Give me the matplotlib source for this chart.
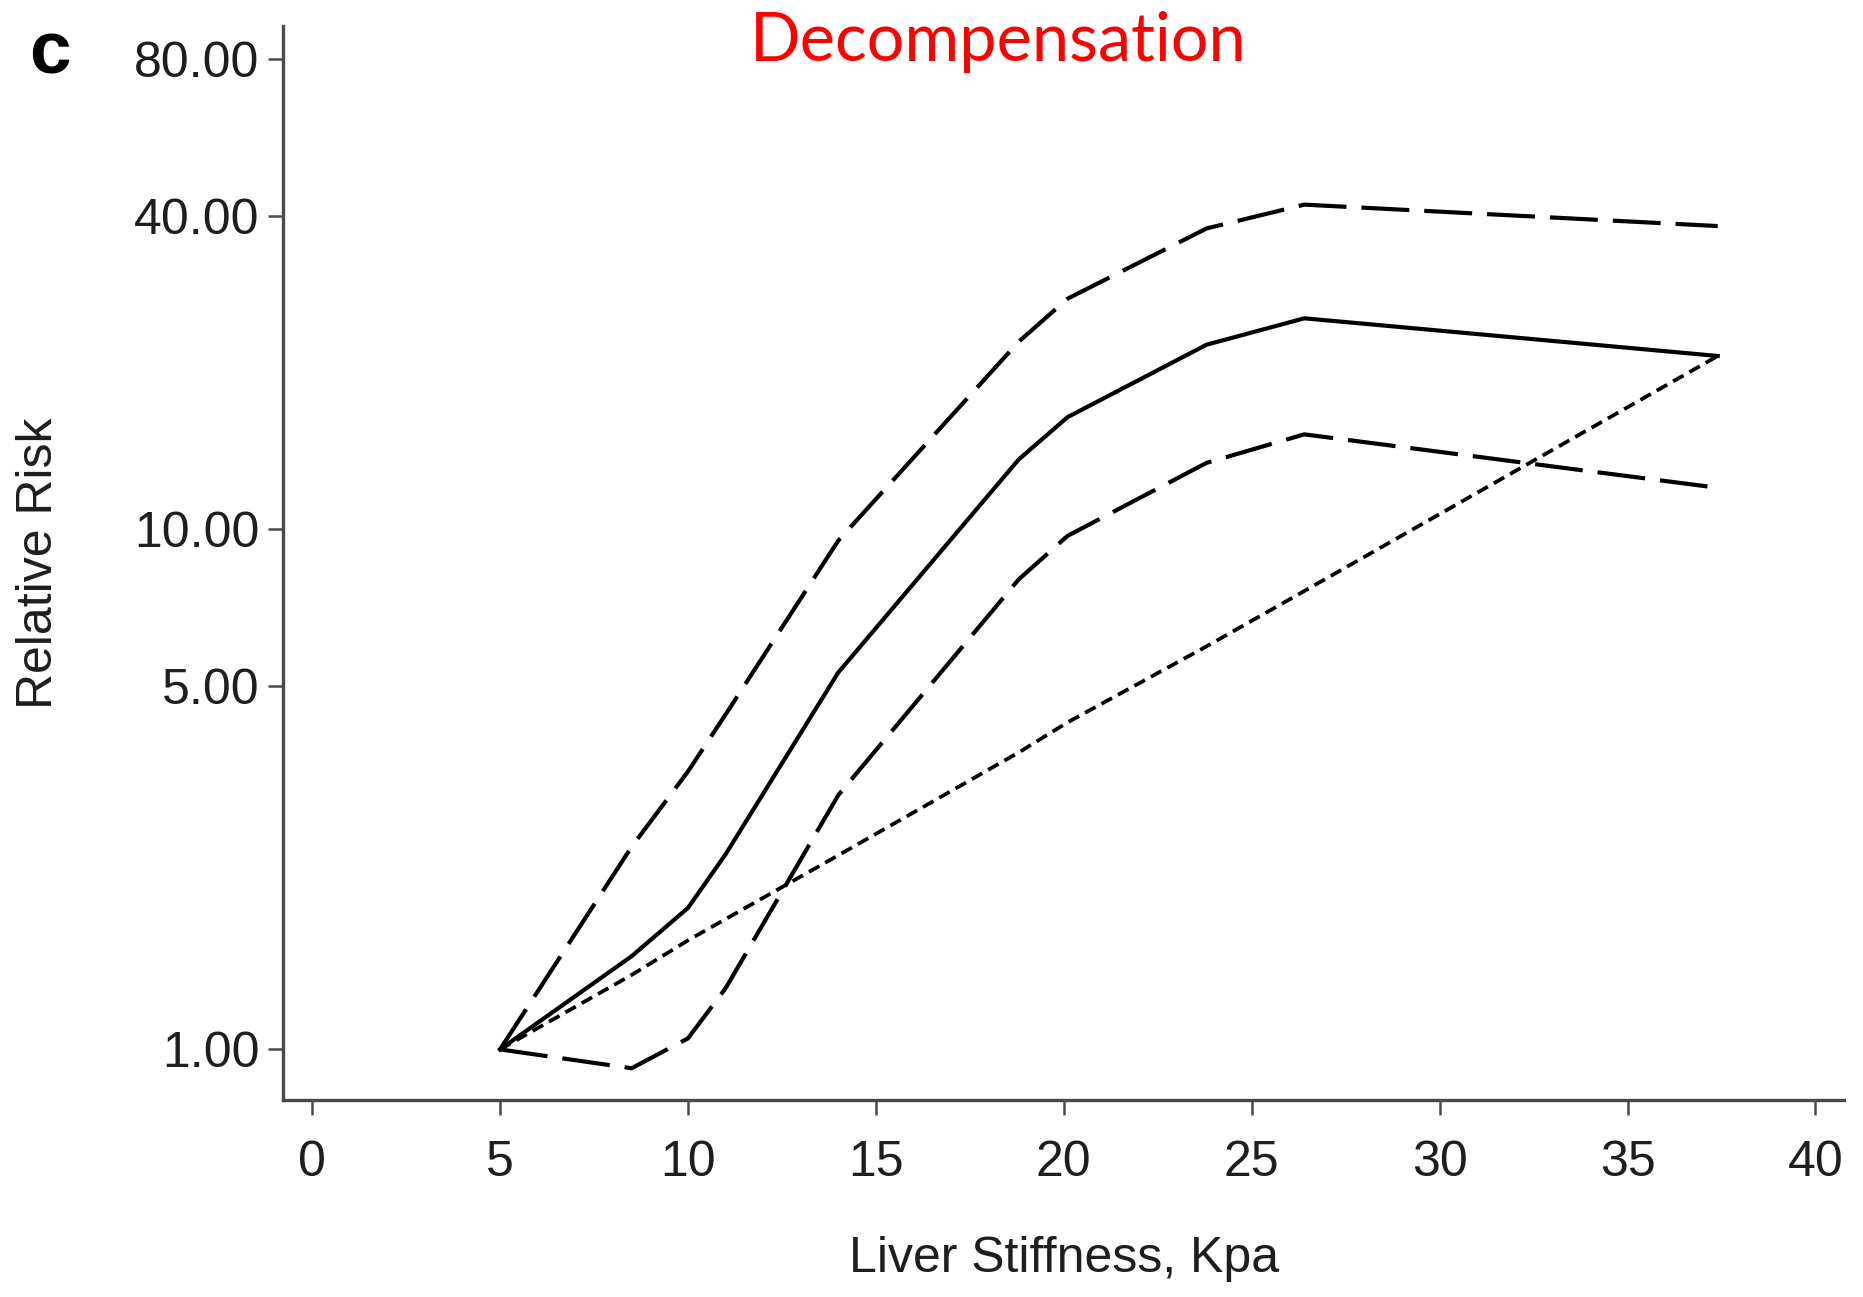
import matplotlib
matplotlib.use("Agg")
import matplotlib.pyplot as plt
from matplotlib.ticker import FixedLocator, FixedFormatter, NullLocator

# Liver stiffness (kPa) at the curve vertices
stiffness = [5.0, 8.5, 10.0, 11.0, 14.0, 18.8, 20.1, 23.8, 26.4, 37.4]

# Relative risk: spline estimate with 95% CI, and the linear trend
rr_estimate = [1.0, 1.51, 1.87, 2.37, 5.3, 13.6, 16.4, 22.6, 25.4, 21.5]
rr_upper = [1.0, 2.45, 3.42, 4.4, 9.5, 22.9, 27.7, 37.8, 42.0, 38.2]
rr_lower = [1.0, 0.92, 1.05, 1.31, 3.08, 8.0, 9.7, 13.4, 15.2, 12.0]
rr_linear = [1.0, 1.39, 1.62, 1.78, 2.36, 3.72, 4.25, 5.95, 7.6, 21.5]

y_ticks = [1, 5, 10, 40, 80]
y_tick_labels = ["1.00", "5.00", "10.00", "40.00", "80.00"]
x_ticks = [0, 5, 10, 15, 20, 25, 30, 35, 40]

plt.rcParams["font.family"] = ["Liberation Sans", "DejaVu Sans"]
AXIS_GREY = "#4a4a4a"
TEXT_COLOR = "#1e1e1e"

fig = plt.figure(figsize=(18.63, 12.97), dpi=100)
fig.patch.set_facecolor("white")
ax = fig.add_axes([0.152, 0.152, 0.838, 0.828])

ax.plot(stiffness, rr_estimate, color="black", lw=3.0, solid_joinstyle="miter")
ax.plot(stiffness, rr_upper, color="black", lw=3.0, linestyle=(0, (11.5, 3.6)))
ax.plot(stiffness, rr_lower, color="black", lw=3.0, linestyle=(0, (11.5, 3.6)))
ax.plot(stiffness, rr_linear, color="black", lw=2.7, linestyle=(0, (3.2, 1.8)))

ax.set_yscale("log")
ax.set_ylim(0.80, 92.6)
ax.set_xlim(-0.77, 40.77)

ax.yaxis.set_major_locator(FixedLocator(y_ticks))
ax.yaxis.set_major_formatter(FixedFormatter(y_tick_labels))
ax.yaxis.set_minor_locator(NullLocator())
ax.set_xticks(x_ticks)

for side in ("top", "right"):
    ax.spines[side].set_visible(False)
for side in ("left", "bottom"):
    ax.spines[side].set_color(AXIS_GREY)
    ax.spines[side].set_linewidth(2.4)

ax.tick_params(axis="both", direction="out", length=11, width=1.8,
               color=AXIS_GREY, labelsize=36, labelcolor=TEXT_COLOR)
ax.tick_params(axis="x", pad=18)
ax.tick_params(axis="y", pad=6)

ax.set_xlabel("Liver Stiffness, Kpa", fontsize=36, color=TEXT_COLOR, labelpad=36)
ax.set_ylabel("Relative Risk", fontsize=36, color=TEXT_COLOR, labelpad=52)

fig.text(0.027, 0.958, "c", fontsize=54, fontweight="bold", ha="center", va="center")
fig.text(0.536, 0.968, "Decompensation", fontsize=48, color="#ff0000",
         family=["Lato", "DejaVu Sans"], ha="center", va="center")

fig.savefig("out.png", dpi=100, facecolor="white")
